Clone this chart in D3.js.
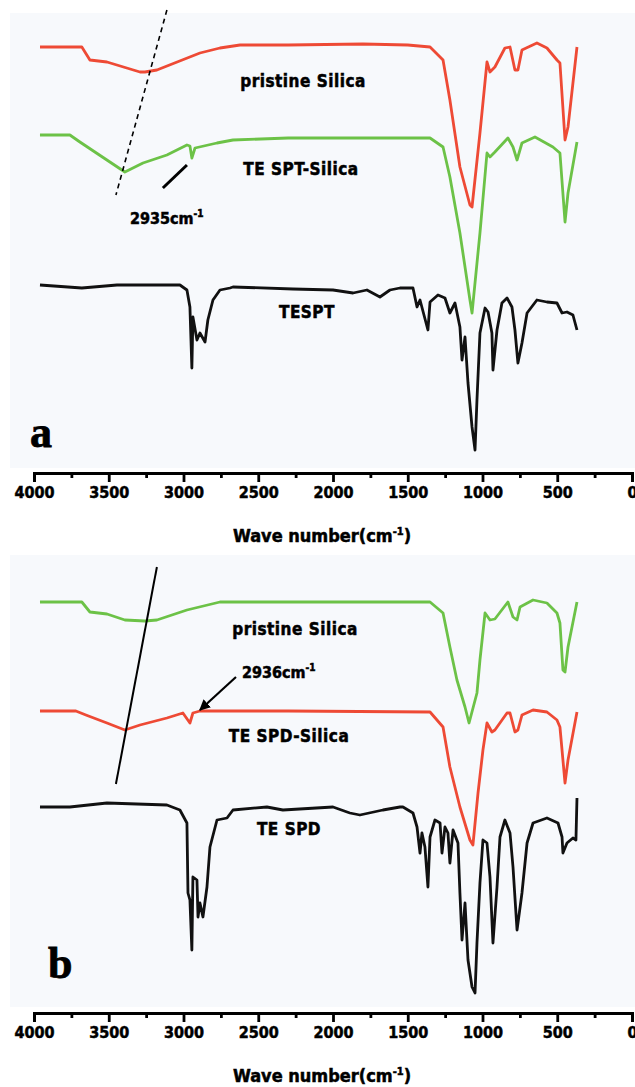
<!DOCTYPE html>
<html>
<head>
<meta charset="utf-8">
<script src="https://cdn.jsdelivr.net/npm/d3@7"></script>
<style>
  body { margin: 0; background: #fff; }
  svg text { font-family: "DejaVu Sans Condensed", "Liberation Sans Narrow", sans-serif; font-weight: bold; fill: #000; stroke: #000; stroke-width: 0.5; }
  .panelLetter { font-family: "Liberation Serif", "DejaVu Serif", serif; font-weight: bold; stroke-width: 0.8; }
</style>
</head>
<body>
<div id="chart"></div>
<script>
// wave number ticks
var majorTicks = [4000, 3500, 3000, 2500, 2000, 1500, 1000, 500, 0];
var minorTicks = [3750, 3250, 2750, 2250, 1750, 1250, 750, 250];

// panel a  -- [wave number, transmittance (a.u.)]
var silicaA = [[3960,423],[3680,423],[3626,410],[3512,408],[3291,398],[3258,398],[3178,400],[2890,417],[2756,422],[2622,425],[2300,425],[1800,426],[1500,425],[1351,423],[1264,410],[1218,370],[1151,303],[1084,265],[1070,263],[1017,337],[970,408],[950,398],[917,403],[850,422],[816,423],[783,400],[763,400],[736,420],[636,427],[569,422],[502,410],[482,407],[448,330],[428,343],[368,423]];
var tesptSilica = [[3960,335],[3760,335],[3693,328],[3392,298],[3271,307],[3111,315],[2977,325],[2957,324],[2944,312],[2923,322],[2776,327],[2669,330],[2300,332],[1800,332],[1351,332],[1264,323],[1218,293],[1151,237],[1084,170],[1070,157],[1017,237],[970,317],[950,313],[917,318],[830,332],[796,323],[769,310],[736,327],[649,333],[529,323],[482,317],[448,248],[428,277],[368,328]];
var tespt = [[3960,185],[3680,182],[3445,185],[3024,185],[2977,180],[2957,163],[2944,102],[2937,153],[2910,130],[2890,137],[2856,128],[2837,150],[2803,170],[2756,180],[2689,182],[2669,183],[2268,181],[2000,180],[1866,177],[1773,180],[1686,173],[1619,180],[1552,182],[1465,182],[1438,163],[1418,170],[1365,140],[1351,168],[1298,175],[1251,172],[1218,157],[1184,167],[1151,143],[1137,110],[1117,133],[1097,87],[1070,43],[1050,20],[1037,70],[1017,137],[983,162],[963,158],[937,137],[930,100],[903,140],[870,167],[836,172],[803,163],[783,140],[763,107],[736,127],[702,157],[636,170],[569,168],[502,167],[468,157],[435,158],[395,155],[368,140]];

// panel b
var silicaB = [[3960,408],[3680,408],[3626,398],[3512,396],[3392,390],[3258,389],[3178,390],[2977,400],[2756,408],[2300,408],[1351,408],[1264,397],[1218,363],[1171,330],[1117,303],[1090,287],[1037,317],[1017,350],[983,397],[950,390],[917,391],[830,408],[796,393],[769,390],[749,403],[662,410],[569,407],[502,397],[482,387],[462,340],[448,338],[428,363],[368,408]];
var tespdSilica = [[3960,299],[3720,299],[3653,295],[3512,287],[3392,280],[3291,285],[3111,292],[3004,297],[2957,287],[2937,297],[2890,299],[2300,299],[1351,298],[1264,283],[1218,243],[1151,203],[1084,170],[1064,165],[1030,217],[997,260],[970,287],[937,278],[917,280],[836,297],[816,297],[783,278],[763,280],[736,295],[662,300],[569,298],[502,290],[482,283],[448,227],[428,250],[368,298]];
var tespd = [[3960,203],[3760,203],[3512,207],[3111,205],[3024,200],[2977,187],[2970,117],[2957,110],[2944,60],[2937,133],[2910,130],[2903,93],[2890,107],[2870,93],[2843,123],[2823,163],[2776,190],[2709,192],[2669,200],[2442,203],[2335,200],[2000,203],[1887,197],[1820,195],[1666,200],[1552,203],[1532,203],[1465,197],[1438,183],[1418,157],[1405,177],[1385,163],[1365,123],[1351,173],[1318,190],[1284,187],[1271,157],[1251,183],[1231,177],[1218,147],[1197,180],[1164,167],[1151,117],[1137,70],[1117,107],[1097,50],[1070,23],[1050,17],[1037,67],[1017,127],[997,170],[970,167],[950,133],[930,67],[903,123],[883,173],[850,190],[816,177],[796,143],[769,80],[736,117],[702,167],[662,187],[569,192],[495,187],[468,173],[462,157],[435,167],[395,172],[375,170],[368,212]];

var red = "#ee4a35", green = "#6cc247", black = "#111";

var width = 635, height = 1087;
var svg = d3.select("#chart").append("svg")
  .attr("width", width)
  .attr("height", height);

var x = d3.scaleLinear().domain([4000, 0]).range([34, 632]);
var yA = d3.scaleLinear().domain([0, 460]).range([470, 10]);
var yB = d3.scaleLinear().domain([0, 460]).range([1010, 550]);

// panel backgrounds
svg.append("rect").attr("x", 10).attr("y", 13).attr("width", 625).attr("height", 455).attr("fill", "#f7f9fc");
svg.append("rect").attr("x", 10).attr("y", 555).attr("width", 625).attr("height", 452).attr("fill", "#f7f9fc");

function drawPanel(y, series, axisY) {
  var line = d3.line()
    .x(function(d) { return x(d[0]); })
    .y(function(d) { return y(d[1]); });

  series.forEach(function(s) {
    svg.append("path")
      .datum(s.data)
      .attr("d", line)
      .attr("fill", "none")
      .attr("stroke", s.color)
      .attr("stroke-width", 2.8)
      .attr("stroke-linejoin", "round");
  });

  // axis
  var g = svg.append("g").attr("transform", "translate(0," + axisY + ")");
  g.call(d3.axisBottom(x).tickValues(majorTicks).tickSize(9).tickPadding(5).tickFormat(d3.format("d")));
  g.append("g").call(d3.axisBottom(x).tickValues(minorTicks).tickSize(5).tickFormat(""));
  g.selectAll(".domain").attr("stroke", "#000").attr("stroke-width", 2.8);
  g.selectAll(".tick line").attr("stroke", "#000").attr("stroke-width", 2.8);
  g.selectAll(".tick text").attr("font-size", 16).attr("fill", "#000")
    .style("font-family", "'DejaVu Sans Condensed', sans-serif").style("font-weight", "bold");

  var t = svg.append("text")
    .attr("x", 322).attr("y", axisY + 69)
    .attr("text-anchor", "middle")
    .attr("font-size", 18)
    .text("Wave number(cm");
  t.append("tspan").attr("dy", -7).attr("font-size", 11).text("-1");
  t.append("tspan").attr("dy", 7).text(")");
}

drawPanel(yA, [
  {data: silicaA, color: red},
  {data: tesptSilica, color: green},
  {data: tespt, color: black}
], 473);

drawPanel(yB, [
  {data: silicaB, color: green},
  {data: tespdSilica, color: red},
  {data: tespd, color: black}
], 1013);

function label(px, py, txt) {
  return svg.append("text").attr("x", px).attr("y", py)
    .attr("text-anchor", "middle").attr("font-size", 17)
    .attr("letter-spacing", 0.5).text(txt);
}

// panel a labels
label(303, 87, "pristine Silica");
label(301, 175, "TE SPT-Silica");
label(307, 318, "TESPT");
var a1 = svg.append("text").attr("x", 130).attr("y", 224).attr("font-size", 16).text("2935cm");
a1.append("tspan").attr("dy", -7).attr("font-size", 10).text("-1");
svg.append("text").attr("class", "panelLetter").attr("x", 30).attr("y", 447).attr("font-size", 44).text("a");

// dashed guide and pointer, panel a
svg.append("line")
  .attr("x1", x(3111)).attr("y1", yA(460)).attr("x2", x(3452)).attr("y2", yA(275))
  .attr("stroke", "#000").attr("stroke-width", 1.6).attr("stroke-dasharray", "5,4");
svg.append("line")
  .attr("x1", x(3138)).attr("y1", yA(282)).attr("x2", x(2977)).attr("y2", yA(305))
  .attr("stroke", "#000").attr("stroke-width", 3);

// panel b labels
label(295, 635, "pristine Silica");
label(289, 742, "TE SPD-Silica");
label(289, 835, "TE SPD");
var b1 = svg.append("text").attr("x", 242).attr("y", 678).attr("font-size", 16).text("2936cm");
b1.append("tspan").attr("dy", -7).attr("font-size", 10).text("-1");
svg.append("text").attr("class", "panelLetter").attr("x", 48).attr("y", 978).attr("font-size", 44).text("b");

svg.append("defs").append("marker")
  .attr("id", "arrow").attr("viewBox", "0 0 10 10").attr("refX", 9).attr("refY", 5)
  .attr("markerWidth", 5).attr("markerHeight", 5).attr("orient", "auto")
  .append("path").attr("d", "M0,0L10,5L0,10z").attr("fill", "#000");

svg.append("line")
  .attr("x1", x(3178)).attr("y1", yB(443)).attr("x2", x(3452)).attr("y2", yB(226))
  .attr("stroke", "#000").attr("stroke-width", 2);
svg.append("line")
  .attr("x1", x(2649)).attr("y1", yB(333)).attr("x2", x(2890)).attr("y2", yB(300))
  .attr("stroke", "#000").attr("stroke-width", 2.2).attr("marker-end", "url(#arrow)");
</script>
</body>
</html>
